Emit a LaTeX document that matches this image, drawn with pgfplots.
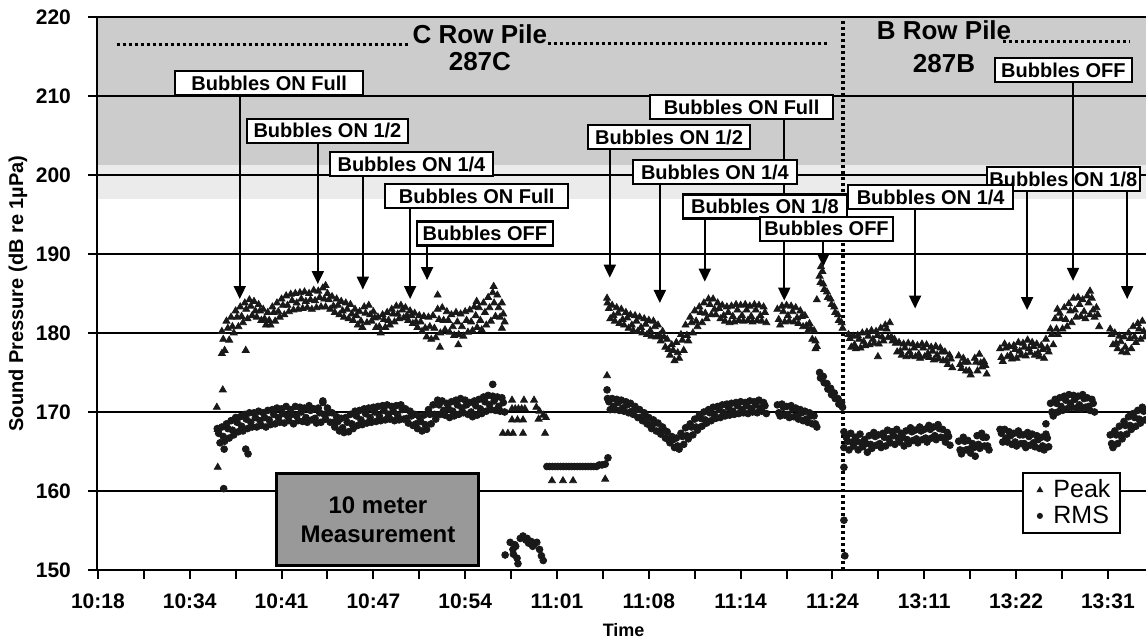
\documentclass[border=0pt]{standalone}
\usepackage{fontspec}
\setmainfont{Liberation Sans}
\usepackage{pgfplots}
\pgfplotsset{compat=1.18}
\usetikzlibrary{arrows.meta}
\begin{document}
\begin{tikzpicture}[
  bub/.style={draw=black, line width=1.1pt, fill=white, font=\bfseries\fontsize{10}{11}\selectfont,
    inner xsep=0pt, inner ysep=0pt, minimum height=12pt, text height=7.2pt, text depth=0pt},
  arr/.style={line width=1pt, -{Triangle[width=6pt,length=6.5pt]}},
  dots/.style={line width=1.6pt, dash pattern=on 1.4pt off 1.6pt}
]
\begin{axis}[
  name=ax, set layers, scale only axis, width=524.5pt, height=276.5pt,
  xmin=-0.02, xmax=22.83, ymin=150, ymax=220,
  axis x line*=bottom, axis y line*=left,
  axis line style={line width=1.2pt, black},
  xtick={0,2,...,22}, minor xtick={1,3,...,21},
  xticklabels={10:18,10:34,10:41,10:47,10:54,11:01,11:08,11:14,11:24,13:11,13:22,13:31},
  ytick={150,160,...,220},
  tick align=outside, major tick length=4.5pt, minor tick length=4.5pt,
  tick style={line width=1pt, black},
  ymajorgrids, grid style={line width=1pt, black},
  /pgf/number format/assume math mode=true,
  xticklabel style={font=\bfseries\fontsize{10.5}{12}\selectfont, yshift=-4pt},
  yticklabel style={font=\bfseries\fontsize{10.5}{12}\selectfont, xshift=-5pt},
  ylabel={Sound Pressure (dB re 1µPa)},
  xlabel={Time},
  y label style={at={(axis description cs:0,0.5)}, anchor=center, yshift=39.5pt, font=\bfseries\fontsize{10}{12}\selectfont},
  x label style={at={(axis description cs:0.502,0)}, anchor=center, yshift=-30pt, font=\bfseries\fontsize{9}{11}\selectfont},
  clip=false,
  legend style={at={(rel axis cs:0.882,0.178)}, anchor=north west, draw=black, line width=1pt, fill=white,
    font=\fontsize{12.5}{14}\selectfont, inner xsep=3pt, inner ysep=1.5pt, row sep=-1.5pt},
  legend cell align=left,
  legend image code/.code={\path (0cm,0cm) (0.32cm,0cm); \draw[#1, mark size=1.0pt] plot coordinates {(0.17cm,0cm)};},
]
\begin{pgfonlayer}{axis background}
  \fill[black!20] (axis cs:-0.02,201.3) rectangle (axis cs:22.83,220);
  \fill[black!8] (axis cs:-0.02,197) rectangle (axis cs:22.83,201.3);
\end{pgfonlayer}

% Peak
\addplot[only marks, mark=triangle*, mark size=2.0pt, mark options={draw=black!90, fill=black!90}] coordinates {
(2.70,180.2)(2.73,179.2)(2.76,177.8)(2.80,181.5)(2.83,180.6)(2.86,179.1)(2.90,182.0)(2.93,180.8)(2.96,180.0)
(3.00,182.8)(3.03,182.0)(3.06,180.8)(3.10,183.3)(3.13,182.1)(3.16,181.3)(3.20,183.8)(3.23,183.0)(3.26,181.8)
(3.30,184.2)(3.33,183.4)(3.36,182.2)(3.40,184.0)(3.43,182.8)(3.46,182.0)(3.50,183.6)(3.53,182.8)(3.56,181.6)
(3.60,183.0)(3.63,181.8)(3.66,181.0)(3.70,182.6)(3.73,181.6)(3.76,181.0)(3.80,183.3)(3.83,182.6)(3.86,181.5)
(3.90,183.8)(3.93,182.7)(3.96,182.0)(4.00,184.3)(4.03,183.5)(4.06,182.3)(4.10,184.7)(4.13,183.5)(4.16,182.7)
(4.20,184.9)(4.23,184.1)(4.26,182.9)(4.30,185.0)(4.33,183.8)(4.36,183.0)(4.40,185.1)(4.43,184.3)(4.46,183.1)
(4.50,185.2)(4.53,184.0)(4.56,183.2)(4.60,185.0)(4.63,184.2)(4.66,183.0)(4.70,185.4)(4.73,184.1)(4.76,183.2)
(4.80,185.3)(4.83,184.5)(4.86,183.3)(4.90,185.7)(4.93,184.3)(4.96,183.3)(5.00,185.0)(5.03,184.2)(5.06,183.0)
(5.10,184.6)(5.13,183.4)(5.16,182.6)(5.20,184.3)(5.23,183.5)(5.26,182.3)(5.30,184.0)(5.33,182.8)(5.36,182.0)
(5.40,183.8)(5.43,183.0)(5.46,181.8)(5.50,183.6)(5.53,182.4)(5.56,181.6)(5.60,183.0)(5.63,182.2)(5.66,181.0)
(5.70,182.7)(5.73,181.5)(5.76,180.7)(5.80,183.3)(5.83,182.5)(5.86,181.3)(5.90,183.5)(5.93,182.3)(5.96,181.5)
(6.00,182.7)(6.03,181.9)(6.06,180.7)(6.10,182.0)(6.13,180.8)(6.16,180.0)(6.20,182.3)(6.23,181.7)(6.26,180.7)
(6.30,182.6)(6.33,181.6)(6.36,181.0)(6.40,183.0)(6.43,182.4)(6.46,181.4)(6.50,183.4)(6.53,182.4)(6.56,181.8)
(6.60,183.5)(6.63,182.9)(6.66,181.9)(6.70,183.2)(6.73,182.2)(6.76,181.6)(6.80,182.8)(6.83,182.2)(6.86,181.2)
(6.90,182.5)(6.93,181.4)(6.96,180.7)(7.00,182.2)(7.03,181.4)(7.06,180.2)(7.10,182.1)(7.13,180.6)(7.16,179.5)
(7.20,182.0)(7.23,180.8)(7.26,179.2)(7.30,182.2)(7.33,180.6)(7.36,179.4)(7.40,183.0)(7.43,181.7)(7.46,180.0)
(7.50,183.2)(7.53,181.6)(7.56,180.4)(7.60,182.7)(7.63,181.6)(7.66,180.1)(7.70,182.3)(7.73,180.8)(7.76,179.7)
(7.80,182.6)(7.83,181.4)(7.86,179.8)(7.90,182.4)(7.93,180.8)(7.96,179.6)(8.00,182.7)(8.03,181.6)(8.06,180.1)
(8.10,182.9)(8.13,181.4)(8.16,180.3)(8.20,183.3)(8.23,182.2)(8.26,180.7)(8.30,183.2)(8.33,181.6)(8.36,180.4)
(8.40,183.8)(8.43,182.6)(8.46,181.0)(8.50,184.5)(8.53,183.2)(8.56,181.5)(8.60,185.1)(8.63,183.8)(8.66,182.1)
(8.70,184.8)(8.73,183.2)(8.76,182.0)(8.80,183.8)(8.83,182.4)(8.86,181.4)
(2.70,177.4)(3.22,177.8)(4.96,186.0)(7.40,184.8)(7.45,178.2)(8.25,184.0)(8.62,185.9)(7.85,178.5)(8.80,180.6)
(2.59,170.6)(2.61,167.8)(2.61,163.0)(2.72,172.8)
(9.02,171.5)(9.28,171.5)(9.50,171.5)(9.02,170.4)(9.09,170.4)(9.16,170.4)(9.23,170.4)(9.30,170.4)
(9.02,169.0)(9.14,169.0)(9.26,169.0)(8.82,167.3)(8.93,167.3)(9.04,167.3)(9.26,167.3)
(9.55,170.6)(9.62,170.1)(9.70,169.6)(9.60,169.1)(9.76,169.3)(9.74,167.3)
(9.89,161.3)(10.13,161.3)(10.35,161.3)(11.05,161.5)
(11.10,183.8)(11.13,183.1)(11.16,181.8)(11.20,183.5)(11.23,182.2)(11.26,181.5)(11.30,183.2)(11.33,182.5)(11.36,181.2)
(11.40,183.0)(11.43,181.7)(11.46,181.0)(11.50,182.6)(11.53,181.9)(11.56,180.6)(11.60,182.3)(11.63,181.0)(11.66,180.3)
(11.70,182.2)(11.73,181.5)(11.76,180.2)(11.80,182.0)(11.83,180.7)(11.86,180.0)(11.90,181.8)(11.93,181.1)(11.96,179.8)
(12.00,181.6)(12.03,180.3)(12.06,179.6)(12.10,181.5)(12.13,180.8)(12.16,179.5)(12.20,181.0)(12.23,179.7)(12.26,179.0)
(12.30,180.2)(12.33,179.5)(12.36,178.2)(12.40,179.2)(12.43,177.9)(12.46,177.2)(12.50,178.5)(12.53,177.8)(12.56,176.5)
(12.60,178.8)(12.63,177.5)(12.66,176.8)(12.70,179.8)(12.73,179.1)(12.76,177.8)(12.80,181.0)(12.83,179.7)(12.86,179.0)
(12.90,182.0)(12.93,181.3)(12.96,180.0)(13.00,182.8)(13.03,181.5)(13.06,180.8)(13.10,183.3)(13.13,182.6)(13.16,181.3)
(13.20,183.8)(13.23,182.5)(13.26,181.8)(13.30,184.3)(13.33,183.6)(13.36,182.3)(13.40,184.3)(13.43,183.0)(13.46,182.3)
(13.50,183.8)(13.53,183.1)(13.56,181.8)(13.60,183.5)(13.63,182.2)(13.66,181.5)(13.70,183.3)(13.73,182.6)(13.76,181.3)
(13.80,183.4)(13.83,182.1)(13.86,181.4)(13.90,183.6)(13.93,182.9)(13.96,181.6)(14.00,183.5)(14.03,182.2)(14.06,181.5)
(14.10,183.6)(14.13,182.9)(14.16,181.6)(14.20,183.4)(14.23,182.1)(14.26,181.4)(14.30,183.6)(14.33,182.9)(14.36,181.6)
(14.40,183.5)(14.43,182.2)(14.46,181.5)(14.50,183.3)(14.53,182.6)(14.56,181.3)
(14.80,183.0)(14.83,181.7)(14.86,181.0)(14.90,183.4)(14.93,182.7)(14.96,181.4)(15.00,183.5)(15.03,182.2)(15.06,181.5)
(15.10,183.4)(15.13,182.7)(15.16,181.4)(15.20,183.2)(15.23,181.9)(15.26,181.2)(15.30,182.8)(15.33,182.1)(15.36,180.8)
(15.40,182.2)(15.43,180.9)(15.46,180.2)(15.50,181.2)(15.53,180.5)(15.56,179.2)(15.60,180.3)(15.63,179.0)(15.66,178.3)
(15.72,187.2)(15.74,186.4)(15.80,186.2)(15.82,185.5)(15.88,185.2)(15.90,184.5)(15.96,184.3)(15.98,183.6)
(16.04,183.3)(16.06,182.6)(16.12,182.3)(16.14,181.6)(16.20,181.3)(16.22,180.6)
(15.75,188.4)(15.78,187.8)(11.09,184.4)(15.66,184.2)(15.63,178.0)(11.09,174.6)
(16.35,179.8)(16.38,179.3)(16.41,178.2)(16.45,179.6)(16.48,178.5)(16.51,178.0)(16.55,179.7)(16.58,179.2)(16.61,178.1)
(16.65,180.0)(16.68,178.9)(16.71,178.4)(16.75,180.1)(16.78,179.6)(16.81,178.5)(16.85,180.3)(16.88,179.2)(16.91,178.7)
(16.95,180.2)(16.98,179.7)(17.01,178.6)(17.05,180.6)(17.08,179.5)(17.11,179.0)(17.15,181.0)(17.18,180.5)(17.21,179.4)
(17.25,181.3)(17.28,179.5)(17.31,179.0)(17.35,179.2)(17.38,178.7)(17.41,177.6)(17.45,178.8)(17.48,177.7)(17.51,177.2)
(17.55,178.6)(17.58,178.1)(17.61,177.0)(17.65,178.7)(17.68,177.6)(17.71,177.1)(17.75,178.6)(17.78,178.1)(17.81,177.0)
(17.85,178.4)(17.88,177.3)(17.91,176.8)(17.95,178.6)(17.98,178.1)(18.01,177.0)(18.05,178.5)(18.08,177.4)(18.11,176.9)
(18.15,178.2)(18.18,177.7)(18.21,176.6)(18.25,178.3)(18.28,177.2)(18.31,176.7)(18.35,178.1)(18.38,177.6)(18.41,176.5)
(18.45,177.6)(18.48,176.5)(18.51,176.0)(18.55,177.2)(18.58,176.7)(18.61,175.6)
(18.75,177.1)(18.78,176.0)(18.81,175.5)(18.85,176.8)(18.88,176.3)(18.91,175.2)(18.95,176.3)(18.98,175.2)(19.01,174.7)
(19.10,176.8)(19.13,176.3)(19.16,175.2)(19.20,177.3)(19.23,176.2)(19.26,175.7)(19.30,176.4)(19.33,175.9)(19.36,174.8)
(19.65,178.0)(19.68,176.9)(19.71,176.4)(19.75,178.6)(19.78,178.1)(19.81,177.0)(19.85,178.3)(19.88,177.2)(19.91,176.7)
(19.95,178.4)(19.98,177.9)(20.01,176.8)(20.05,178.8)(20.08,177.7)(20.11,177.2)(20.15,178.7)(20.18,178.2)(20.21,177.1)
(20.25,179.1)(20.28,178.0)(20.31,177.5)(20.35,178.8)(20.38,178.3)(20.41,177.2)(20.45,178.6)(20.48,177.5)(20.51,177.0)
(20.55,178.4)(20.58,177.9)(20.61,176.8)(20.65,179.2)(20.68,178.1)(20.71,177.6)(20.75,180.5)(20.78,179.8)(20.81,178.5)
(20.85,181.8)(20.88,180.5)(20.91,179.8)(20.95,182.5)(20.98,181.8)(21.01,180.5)(21.05,183.2)(21.08,181.7)(21.11,180.8)
(21.15,183.7)(21.18,182.8)(21.21,181.3)(21.25,184.4)(21.28,182.9)(21.31,182.0)(21.35,184.5)(21.38,183.6)(21.41,182.1)
(21.45,184.2)(21.48,182.7)(21.51,181.8)(21.55,184.7)(21.58,183.8)(21.61,182.3)(21.65,184.4)(21.68,182.9)(21.71,182.0)
(21.75,183.2)(21.78,182.3)(21.81,180.8)
(22.05,180.5)(22.08,179.8)(22.11,178.5)(22.15,180.0)(22.18,178.7)(22.21,178.0)(22.25,179.6)(22.28,178.9)(22.31,177.6)
(22.35,179.5)(22.38,178.2)(22.41,177.5)(22.45,180.0)(22.48,179.3)(22.51,178.0)(22.55,180.8)(22.58,179.5)(22.61,178.8)
(22.65,181.2)(22.68,180.5)(22.71,179.2)(22.75,181.5)(22.78,180.2)(22.81,179.5)
(16.99,177.0)(21.61,185.3)(20.90,183.0)
};
\addlegendentry{Peak}

% RMS
\addplot[only marks, mark=*, mark size=1.7pt, mark options={draw=black!90, fill=black!90}] coordinates {
(2.60,167.9)(2.63,167.3)(2.66,166.1)(2.70,168.1)(2.73,166.9)(2.76,166.3)(2.80,168.5)(2.83,167.9)(2.86,166.7)
(2.90,168.9)(2.93,167.7)(2.96,167.1)(3.00,169.3)(3.03,168.7)(3.06,167.5)(3.10,169.4)(3.13,168.2)(3.16,167.6)
(3.20,169.7)(3.23,169.1)(3.26,167.9)(3.30,169.9)(3.33,168.7)(3.36,168.1)(3.40,169.9)(3.43,169.3)(3.46,168.1)
(3.50,170.1)(3.53,168.9)(3.56,168.3)(3.60,169.9)(3.63,169.3)(3.66,168.1)(3.70,170.2)(3.73,169.0)(3.76,168.4)
(3.80,170.3)(3.83,169.7)(3.86,168.5)(3.90,170.5)(3.93,169.3)(3.96,168.7)(4.00,170.4)(4.03,169.8)(4.06,168.6)
(4.10,170.7)(4.13,169.5)(4.16,168.9)(4.20,170.3)(4.23,169.7)(4.26,168.5)(4.30,170.7)(4.33,169.5)(4.36,168.9)
(4.40,170.6)(4.43,170.0)(4.46,168.8)(4.50,170.5)(4.53,169.3)(4.56,168.7)(4.60,170.8)(4.63,170.2)(4.66,169.0)
(4.70,170.4)(4.73,169.2)(4.76,168.6)(4.80,170.5)(4.83,169.9)(4.86,168.7)(4.90,171.2)(4.93,169.7)(4.96,169.1)
(5.00,170.5)(5.03,169.9)(5.06,168.7)(5.10,169.9)(5.13,168.7)(5.16,168.1)(5.20,169.4)(5.23,168.8)(5.26,167.6)
(5.30,169.2)(5.33,168.0)(5.36,167.4)(5.40,169.3)(5.43,168.7)(5.46,167.5)(5.50,169.7)(5.53,168.5)(5.56,167.9)
(5.60,170.1)(5.63,169.5)(5.66,168.3)(5.70,170.2)(5.73,169.0)(5.76,168.4)(5.80,170.4)(5.83,169.8)(5.86,168.6)
(5.90,170.5)(5.93,169.3)(5.96,168.7)(6.00,170.6)(6.03,170.0)(6.06,168.8)(6.10,170.7)(6.13,169.5)(6.16,168.9)
(6.20,170.8)(6.23,170.2)(6.26,169.0)(6.30,170.9)(6.33,169.7)(6.36,169.1)(6.40,170.7)(6.43,170.1)(6.46,168.9)
(6.50,170.8)(6.53,169.6)(6.56,169.0)(6.60,170.9)(6.63,170.3)(6.66,169.1)(6.70,170.4)(6.73,169.2)(6.76,168.6)
(6.80,170.1)(6.83,169.5)(6.86,168.3)(6.90,169.7)(6.93,168.5)(6.96,167.9)(7.00,169.4)(7.03,168.8)(7.06,167.6)
(7.10,169.6)(7.13,168.4)(7.16,167.8)(7.20,170.3)(7.23,169.7)(7.26,168.5)(7.30,170.9)(7.33,169.7)(7.36,169.1)
(7.40,171.5)(7.43,170.9)(7.46,169.7)(7.50,171.4)(7.53,170.2)(7.56,169.6)(7.60,171.1)(7.63,170.5)(7.66,169.3)
(7.70,171.3)(7.73,170.1)(7.76,169.5)(7.80,171.5)(7.83,170.9)(7.86,169.7)(7.90,171.7)(7.93,170.5)(7.96,169.9)
(8.00,171.5)(8.03,170.9)(8.06,169.7)(8.10,171.2)(8.13,170.0)(8.16,169.4)(8.20,171.4)(8.23,170.8)(8.26,169.6)
(8.30,171.6)(8.33,170.4)(8.36,169.8)(8.40,171.9)(8.43,171.3)(8.46,170.1)(8.50,172.1)(8.53,170.9)(8.56,170.3)
(8.60,172.0)(8.63,171.4)(8.66,170.2)(8.70,171.9)(8.73,170.7)(8.76,170.1)(8.80,171.8)(8.83,171.2)(8.86,170.0)
(2.74,160.3)(2.75,165.3)(3.22,165.3)(3.27,164.7)(8.60,173.5)(4.90,171.4)
(9.78,163.1)(9.84,163.1)(9.90,163.1)(9.96,163.1)(10.02,163.1)(10.08,163.1)(10.14,163.1)(10.20,163.1)(10.26,163.1)
(10.32,163.1)(10.38,163.1)(10.44,163.1)(10.50,163.1)(10.56,163.1)(10.62,163.1)(10.68,163.1)(10.74,163.1)(10.80,163.1)
(10.86,163.1)(10.92,163.3)(10.98,163.3)(11.05,163.4)(11.11,164.2)
(8.87,151.9)(8.98,153.5)(9.04,152.6)(9.10,153.0)(9.15,150.8)(9.20,154.0)(9.26,154.3)(9.32,153.8)(9.38,153.4)
(9.44,153.6)(9.50,153.2)(9.56,153.5)(9.62,152.6)(9.66,151.8)(9.70,151.2)(9.05,152.0)(9.13,151.5)(9.08,153.2)
(9.35,154.0)(9.47,153.0)
(11.10,171.7)(11.13,171.3)(11.16,170.3)(11.20,171.7)(11.23,170.7)(11.26,170.3)(11.30,171.6)(11.33,171.2)(11.36,170.2)
(11.40,171.5)(11.43,170.5)(11.46,170.1)(11.50,171.3)(11.53,170.9)(11.56,169.9)(11.60,171.1)(11.63,170.1)(11.66,169.7)
(11.70,170.7)(11.73,170.3)(11.76,169.3)(11.80,170.3)(11.83,169.3)(11.86,168.9)(11.90,169.9)(11.93,169.5)(11.96,168.5)
(12.00,169.3)(12.03,168.3)(12.06,167.9)(12.10,169.0)(12.13,168.6)(12.16,167.6)(12.20,168.6)(12.23,167.6)(12.26,167.2)
(12.30,168.1)(12.33,167.7)(12.36,166.7)(12.40,167.5)(12.43,166.5)(12.46,166.1)(12.50,166.9)(12.53,166.5)(12.56,165.5)
(12.60,166.7)(12.63,165.7)(12.66,165.3)(12.70,167.3)(12.73,166.9)(12.76,165.9)(12.80,168.0)(12.83,167.0)(12.86,166.6)
(12.90,168.5)(12.93,168.1)(12.96,167.1)(13.00,169.1)(13.03,168.1)(13.06,167.7)(13.10,169.6)(13.13,169.2)(13.16,168.2)
(13.20,170.0)(13.23,169.0)(13.26,168.6)(13.30,170.3)(13.33,169.9)(13.36,168.9)(13.40,170.6)(13.43,169.6)(13.46,169.2)
(13.50,170.7)(13.53,170.3)(13.56,169.3)(13.60,170.9)(13.63,169.9)(13.66,169.5)(13.70,171.0)(13.73,170.6)(13.76,169.6)
(13.80,171.1)(13.83,170.1)(13.86,169.7)(13.90,171.2)(13.93,170.8)(13.96,169.8)(14.00,171.3)(14.03,170.3)(14.06,169.9)
(14.10,171.2)(14.13,170.8)(14.16,169.8)(14.20,171.4)(14.23,170.4)(14.26,170.0)(14.30,171.3)(14.33,170.9)(14.36,169.9)
(14.40,171.5)(14.43,170.5)(14.46,170.1)(14.50,171.2)(14.53,170.8)(14.56,169.8)
(14.80,170.9)(14.83,169.9)(14.86,169.5)(14.90,171.0)(14.93,170.6)(14.96,169.6)(15.00,170.7)(15.03,169.7)(15.06,169.3)
(15.10,170.8)(15.13,170.4)(15.16,169.4)(15.20,170.5)(15.23,169.5)(15.26,169.1)(15.30,170.3)(15.33,169.9)(15.36,168.9)
(15.40,170.1)(15.43,169.1)(15.46,168.7)(15.50,169.9)(15.53,169.5)(15.56,168.5)(15.60,169.5)(15.63,168.5)(15.66,168.1)
(15.72,175.0)(15.74,174.3)(15.80,174.5)(15.82,173.7)(15.88,173.6)(15.90,172.9)(15.96,173.0)(15.98,172.2)
(16.04,172.4)(16.06,171.7)(16.12,171.7)(16.14,171.0)(16.20,171.2)(16.22,170.6)
(11.09,172.8)(16.25,167.5)(16.25,165.5)(16.25,163.0)(16.25,156.3)(16.27,151.8)
(16.30,166.8)(16.33,166.3)(16.36,165.2)(16.40,167.3)(16.43,166.2)(16.46,165.7)(16.50,166.8)(16.53,166.3)(16.56,165.2)
(16.60,167.2)(16.63,166.1)(16.66,165.6)(16.70,166.5)(16.73,166.0)(16.76,164.9)(16.80,167.0)(16.83,165.9)(16.86,165.4)
(16.90,167.4)(16.93,166.9)(16.96,165.8)(17.00,167.1)(17.03,166.0)(17.06,165.5)(17.10,167.3)(17.13,166.8)(17.16,165.7)
(17.20,167.7)(17.23,166.6)(17.26,166.1)(17.30,167.5)(17.33,167.0)(17.36,165.9)(17.40,167.8)(17.43,166.7)(17.46,166.2)
(17.50,167.3)(17.53,166.8)(17.56,165.7)(17.60,167.6)(17.63,166.5)(17.66,166.0)(17.70,168.0)(17.73,167.5)(17.76,166.4)
(17.80,167.7)(17.83,166.6)(17.86,166.1)(17.90,168.1)(17.93,167.6)(17.96,166.5)(18.00,167.8)(18.03,166.7)(18.06,166.2)
(18.10,168.3)(18.13,167.8)(18.16,166.7)(18.20,168.1)(18.23,167.0)(18.26,166.5)(18.30,168.4)(18.33,167.9)(18.36,166.8)
(18.40,167.8)(18.43,166.7)(18.46,166.2)(18.50,167.4)(18.53,166.9)(18.56,165.8)
(18.75,166.3)(18.78,165.2)(18.81,164.7)(18.85,166.8)(18.88,166.3)(18.91,165.2)(18.95,166.4)(18.98,165.3)(19.01,164.8)
(19.05,166.0)(19.08,165.5)(19.11,164.4)(19.15,167.0)(19.18,165.9)(19.21,165.4)(19.25,167.3)(19.28,166.8)(19.31,165.7)
(19.35,166.8)(19.38,165.7)(19.41,165.2)
(19.65,167.8)(19.68,167.3)(19.71,166.2)(19.75,167.8)(19.78,166.7)(19.81,166.2)(19.85,167.5)(19.88,167.0)(19.91,165.9)
(19.95,167.3)(19.98,166.2)(20.01,165.7)(20.05,167.6)(20.08,167.1)(20.11,166.0)(20.15,167.1)(20.18,166.0)(20.21,165.5)
(20.25,167.4)(20.28,166.9)(20.31,165.8)(20.35,167.2)(20.38,166.1)(20.41,165.6)(20.45,167.0)(20.48,166.5)(20.51,165.4)
(20.55,166.8)(20.58,165.7)(20.61,165.2)(20.65,167.2)(20.68,166.7)(20.71,165.6)
(20.75,171.1)(20.78,170.0)(20.81,169.5)(20.85,171.6)(20.88,171.1)(20.91,170.0)(20.95,171.8)(20.98,170.7)(21.01,170.2)
(21.05,172.0)(21.08,171.5)(21.11,170.4)(21.15,172.2)(21.18,171.1)(21.21,170.6)(21.25,172.1)(21.28,171.6)(21.31,170.5)
(21.35,172.0)(21.38,170.9)(21.41,170.4)(21.45,172.2)(21.48,171.7)(21.51,170.6)(21.55,171.8)(21.58,170.7)(21.61,170.2)
(21.65,171.6)(21.68,171.1)(21.71,170.0)
(22.05,167.1)(22.08,166.0)(22.11,165.5)(22.15,167.6)(22.18,167.1)(22.21,166.0)(22.25,168.2)(22.28,167.1)(22.31,166.6)
(22.35,168.8)(22.38,168.3)(22.41,167.2)(22.45,169.4)(22.48,168.3)(22.51,167.8)(22.55,169.8)(22.58,169.3)(22.61,168.2)
(22.65,170.2)(22.68,169.1)(22.71,168.6)(22.75,170.6)(22.78,170.1)(22.81,169.0)
(20.65,168.5)
};
\addlegendentry{RMS}

% vertical dotted separator and pile lines
\draw[dots] (axis cs:16.23,150) -- (axis cs:16.23,220);
\draw[dots] (axis cs:0.41,216.5) -- (axis cs:6.80,216.5);
\draw[dots] (axis cs:9.80,216.6) -- (axis cs:15.90,216.6);
\draw[dots] (axis cs:19.72,216.9) -- (axis cs:22.48,216.9);
\node[font=\bfseries\fontsize{13}{15}\selectfont] at (axis cs:8.32,217.8) {C Row Pile};
\node[font=\bfseries\fontsize{13}{15}\selectfont] at (axis cs:8.32,214.3) {287C};
\node[font=\bfseries\fontsize{13}{15}\selectfont] at (axis cs:18.43,218.3) {B Row Pile};
\node[font=\bfseries\fontsize{13}{15}\selectfont] at (axis cs:18.43,214.1) {287B};

% 10 meter box
\draw[line width=1.5pt, fill=black!40] (axis cs:3.88,150.6) rectangle (axis cs:8.30,162.2);
\node[align=center, font=\bfseries\fontsize{12}{14.6}\selectfont] at (axis cs:6.1,156.4) {10 meter\\Measurement};

% arrows
\draw[arr] (axis cs:3.09,211.6) -- (axis cs:3.09,184.3);
\draw[arr] (axis cs:4.79,205.6) -- (axis cs:4.79,186.2);
\draw[arr] (axis cs:5.77,201.4) -- (axis cs:5.77,185.5);
\draw[arr] (axis cs:6.80,197.3) -- (axis cs:6.80,184.3);
\draw[arr] (axis cs:7.17,192.6) -- (axis cs:7.17,186.7);
\draw[arr] (axis cs:11.15,204.8) -- (axis cs:11.15,187.0);
\draw[arr] (axis cs:14.95,208.6) -- (axis cs:14.95,184.1);
\draw[arr] (axis cs:12.24,200.4) -- (axis cs:12.24,183.8);
\draw[arr] (axis cs:13.22,196.0) -- (axis cs:13.22,186.5);
\draw[arr] (axis cs:15.80,193.2) -- (axis cs:15.80,188.4);
\draw[arr] (axis cs:17.80,197.2) -- (axis cs:17.80,183.1);
\draw[arr] (axis cs:20.24,199.5) -- (axis cs:20.24,182.9);
\draw[arr] (axis cs:22.42,199.5) -- (axis cs:22.42,184.3);

% boxes
\node[bub, minimum width=94pt] at (axis cs:3.73,211.6) {Bubbles ON Full};
\node[bub, minimum width=80.5pt] at (axis cs:5.00,205.6) {Bubbles ON 1/2};
\node[bub, minimum width=81.5pt] at (axis cs:6.83,201.4) {Bubbles ON 1/4};
\node[bub, minimum width=91.5pt] at (axis cs:8.25,197.3) {Bubbles ON Full};
\node[bub, minimum width=68pt] at (axis cs:8.43,192.6) {Bubbles OFF};
\node[bub, minimum width=81pt] at (axis cs:12.44,204.8) {Bubbles ON 1/2};
\node[bub, minimum width=91.5pt] at (axis cs:14.02,208.6) {Bubbles ON Full};
\node[bub, minimum width=82pt] at (axis cs:13.44,200.4) {Bubbles ON 1/4};
\node[bub, minimum width=82pt] at (axis cs:14.53,196.0) {Bubbles ON 1/8};
\node[bub, minimum width=66.5pt] at (axis cs:15.87,193.2) {Bubbles OFF};
\node[bub, minimum width=76.5pt] at (axis cs:21.03,199.5) {Bubbles ON 1/8};
\node[bub, minimum width=82.5pt] at (axis cs:18.14,197.2) {Bubbles ON 1/4};
\draw[arr] (axis cs:21.24,213.3) -- (axis cs:21.24,186.6);
\node[bub, minimum width=68.5pt] at (axis cs:21.03,213.3) {Bubbles OFF};
\end{axis}
\pgfresetboundingbox
\path ([shift={(-48.5pt,-35pt)}]ax.south west) rectangle ([shift={(524.5pt,285pt)}]ax.south west);
\end{tikzpicture}
\end{document}
